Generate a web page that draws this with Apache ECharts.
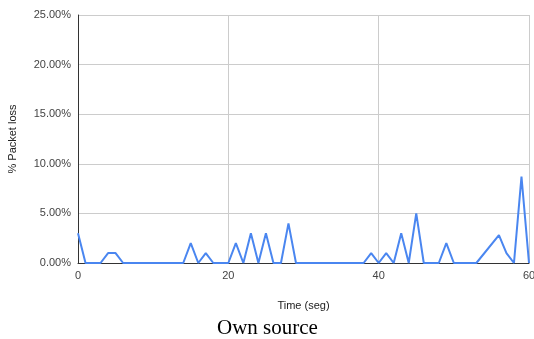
<!DOCTYPE html>
<html>
<head>
<meta charset="utf-8">
<script src="https://cdn.jsdelivr.net/npm/echarts@6/dist/echarts.min.js"></script>
<style>
html,body{margin:0;padding:0;background:#fff;}
#chart{width:534px;height:339px;}
</style>
</head>
<body>
<div id="chart"></div>
<script>
var timeSeconds = [0, 1, 3, 4, 5, 6, 14, 15, 16, 17, 18, 20, 21, 22, 23, 24, 25, 26, 27, 28, 29, 38, 39, 40, 41, 42, 43, 44, 45, 46, 48, 49, 50, 53, 56, 57, 58, 59, 60];
var packetLossPct = [3, 0, 0, 1, 1, 0, 0, 2, 0, 1, 0, 0, 2, 0, 3, 0, 3, 0, 0, 4, 0, 0, 1, 0, 1, 0, 3, 0, 5, 0, 0, 2, 0, 0, 2.8, 1, 0, 8.7, 0];
var xTicks = [0, 20, 40, 60];
var yTicks = [0, 5, 10, 15, 20, 25];
var xTitle = 'Time (seg)';
var yTitle = '% Packet loss';
var captionText = 'Own source';

var points = timeSeconds.map(function (t, i) { return [t, packetLossPct[i]]; });

var chart = echarts.init(document.getElementById('chart'), null, {renderer: 'canvas'});
chart.setOption({
  animation: false,
  backgroundColor: '#fff',
  grid: {left: 78, right: 5, top: 15, bottom: 76, containLabel: false, outerBoundsMode: 'none'},
  xAxis: {
    type: 'value',
    min: xTicks[0], max: xTicks[xTicks.length - 1], interval: 20,
    name: xTitle, nameLocation: 'middle', nameGap: 37,
    nameTextStyle: {color: '#222', fontSize: 11, fontFamily: 'Liberation Sans, Arial, sans-serif'},
    axisLine: {show: true, onZero: false, lineStyle: {color: '#333', width: 1}},
    axisTick: {show: false},
    axisLabel: {color: '#444', fontSize: 11, margin: 7, fontFamily: 'Liberation Sans, Arial, sans-serif'},
    splitLine: {show: true, lineStyle: {color: '#ccc', width: 1}}
  },
  yAxis: {
    type: 'value',
    min: yTicks[0], max: yTicks[yTicks.length - 1], interval: 5,
    name: yTitle, nameLocation: 'middle', nameGap: 60, nameRotate: 90,
    nameTextStyle: {color: '#222', fontSize: 11, fontFamily: 'Liberation Sans, Arial, sans-serif'},
    axisLine: {show: true, lineStyle: {color: '#333', width: 1}},
    axisTick: {show: false},
    axisLabel: {color: '#444', fontSize: 11, margin: 7, fontFamily: 'Liberation Sans, Arial, sans-serif',
      formatter: function (v) { return v.toFixed(2) + '%'; }},
    splitLine: {show: true, lineStyle: {color: '#ccc', width: 1}}
  },
  graphic: [{
    type: 'text', left: 217, top: 318,
    style: {text: captionText, fill: '#000', fontSize: 21, fontFamily: 'Liberation Serif, Times New Roman, serif'}
  }],
  series: [{
    type: 'line',
    data: points,
    showSymbol: false,
    symbol: 'none',
    lineStyle: {color: '#4a86f0', width: 2},
    clip: false
  }]
});
</script>
</body>
</html>
